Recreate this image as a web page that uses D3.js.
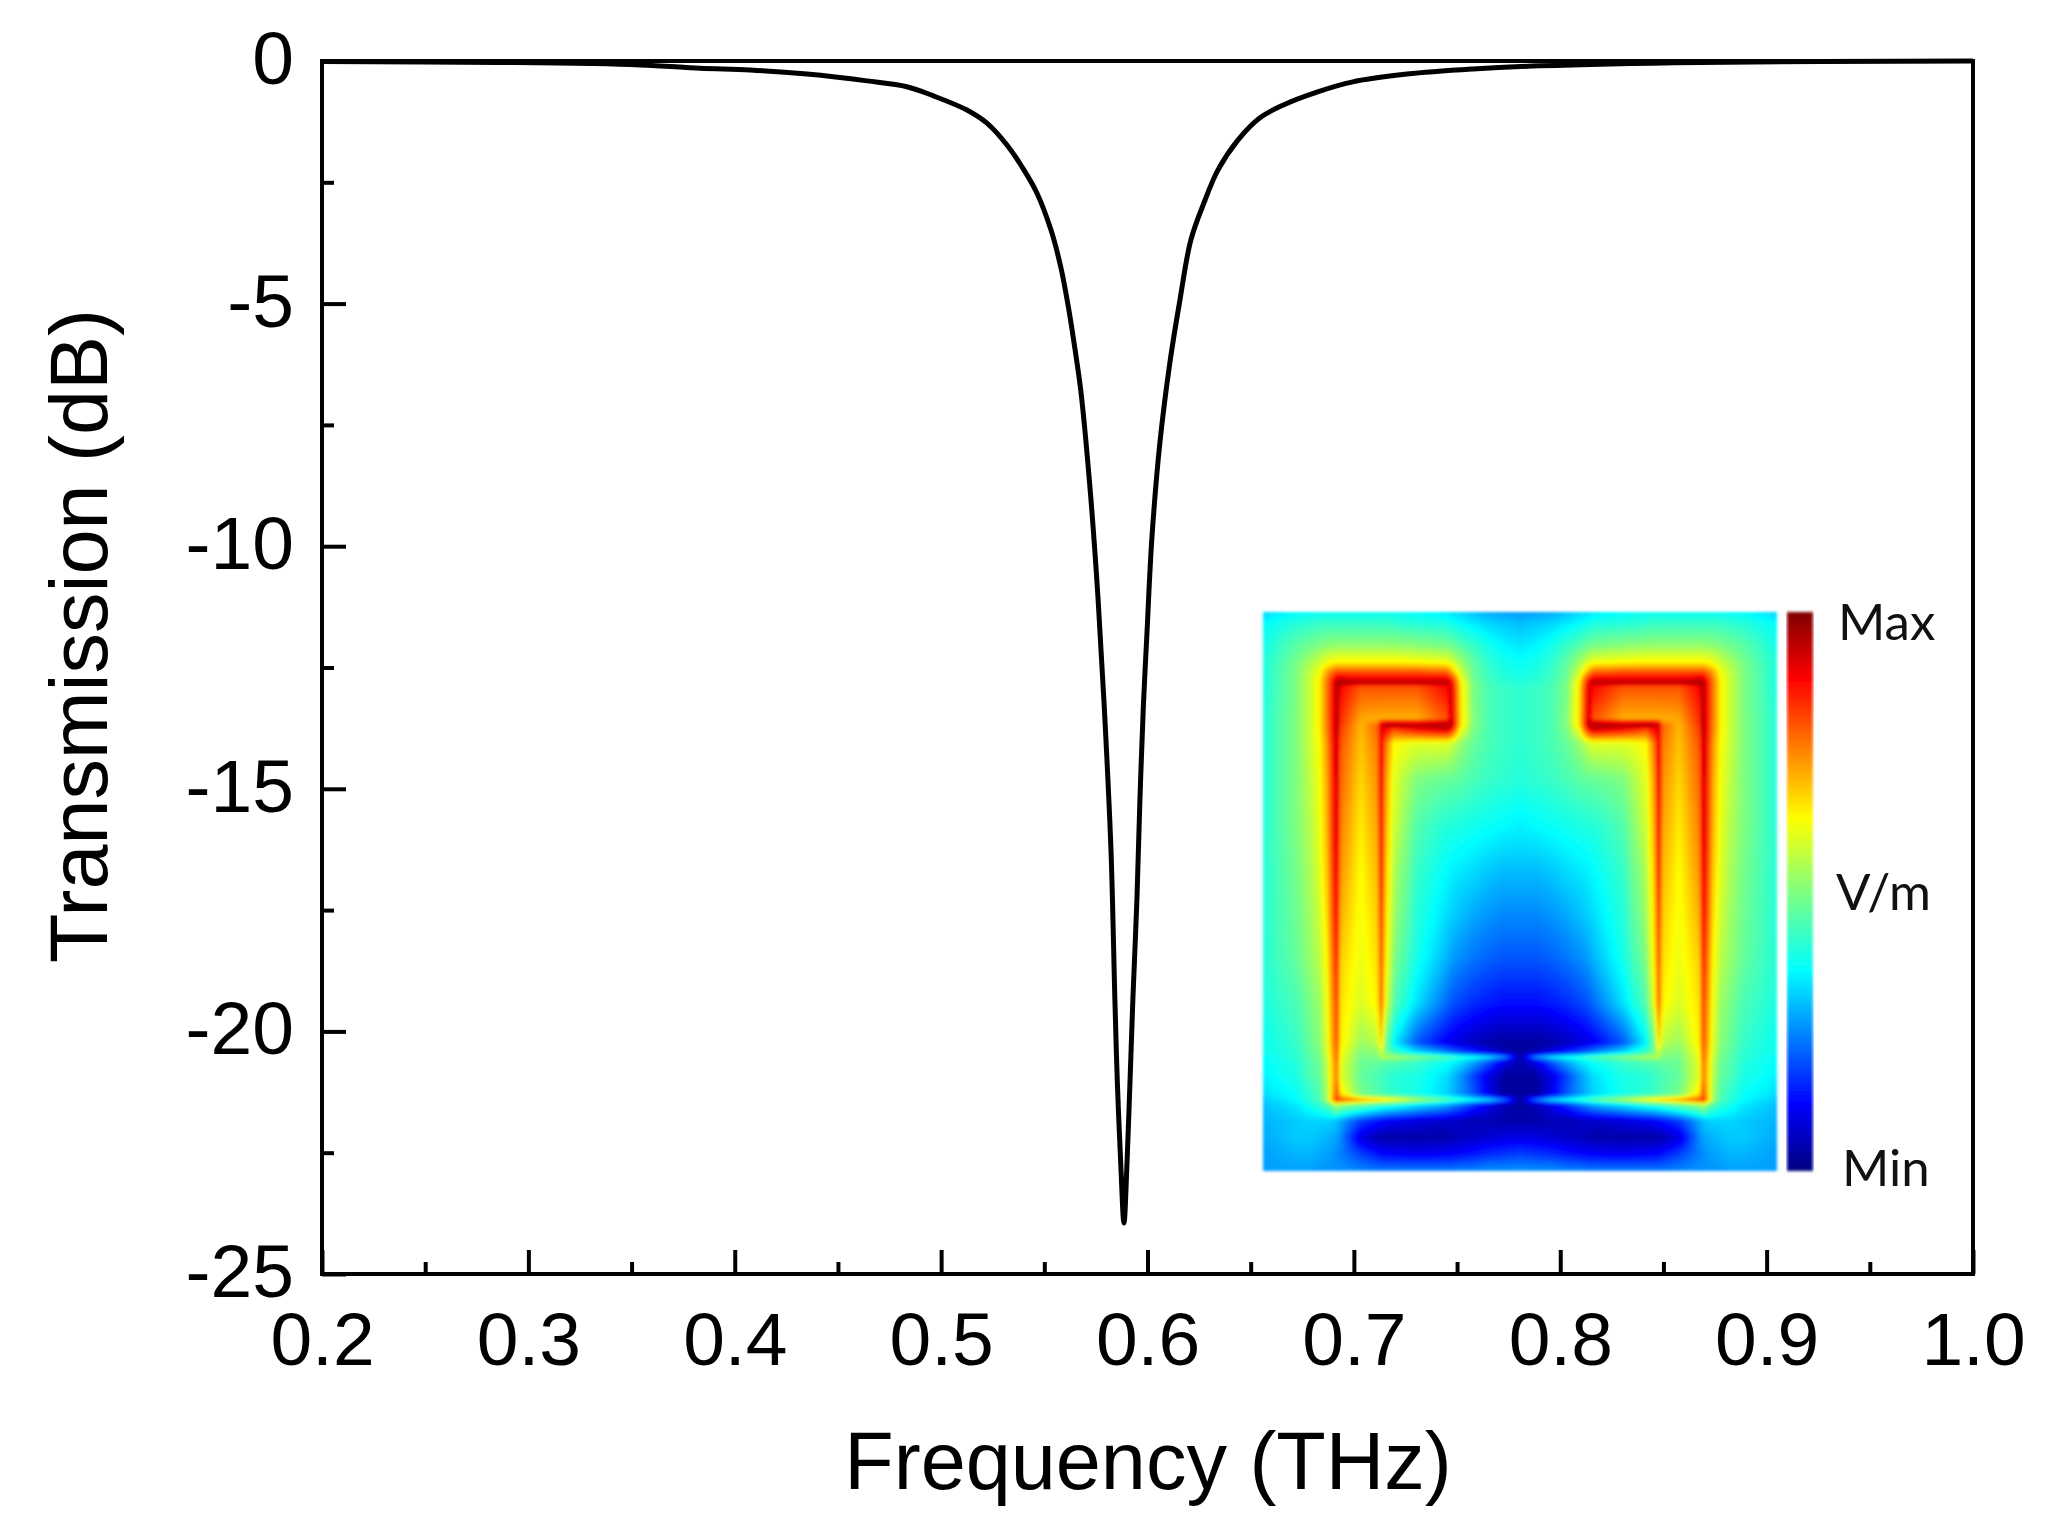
<!DOCTYPE html>
<html lang="en">
<head>
    <meta charset="UTF-8">
    <title>Transmission spectrum</title>
    <style>
        body, html {
            margin: 0;
            padding: 0;
            background-color: #fff;
        }

        svg {
            display: block;
        }

        .axis text, .axis-title {
            font-family: "Liberation Sans", Arial, sans-serif;
            fill: #000;
        }

        .axis text {
            font-size: 75px;
        }

        .axis-title {
            font-size: 81px;
        }

        .axis line {
            stroke: #000;
            stroke-width: 4px;
        }

        .axis path {
            display: none;
        }

        .inset-label {
            font-family: Lato, "Open Sans", sans-serif;
            font-size: 51px;
            fill: #111;
        }
    </style>
</head>
<body>
<div id="chart"></div>

<script src="https://d3js.org/d3.v7.min.js"></script>
<script>
    // Transmission curve
    const frequency = [0.2, 0.2862, 0.3541, 0.3831, 0.4074, 0.435, 0.4641, 0.4834, 0.496, 0.5125,
        0.5222, 0.5319, 0.5396, 0.5464, 0.5532, 0.558, 0.5619, 0.5648, 0.5677, 0.5721,
        0.576, 0.5794, 0.5823, 0.5842, 0.5854, 0.5871, 0.5886, 0.59, 0.5915, 0.5929,
        0.5949, 0.5963, 0.598, 0.5997, 0.6021, 0.606, 0.6109, 0.6157, 0.621, 0.6273,
        0.6341, 0.6438, 0.6545, 0.6656, 0.6821, 0.6995, 0.7257, 0.7577, 0.7901, 0.8676, 1.0];
    const transmission = [-0.01, -0.03, -0.08, -0.15, -0.185, -0.27, -0.41, -0.53, -0.715, -1.01,
        -1.28, -1.73, -2.21, -2.72, -3.48, -4.25, -5.13, -5.92, -6.8, -8.78,
        -11.05, -13.6, -16.26, -19.35, -21.06, -22.79, -23.95, -22.79, -21.06, -19.35,
        -17.25, -15.27, -13.29, -11.83, -9.85, -7.87, -6.2, -4.93, -3.69, -2.93,
        -2.25, -1.63, -1.17, -0.91, -0.64, -0.43, -0.27, -0.165, -0.1, -0.03, 0];

    const xTicks = [0.2, 0.3, 0.4, 0.5, 0.6, 0.7, 0.8, 0.9, 1.0];
    const xMinorTicks = [0.25, 0.35, 0.45, 0.55, 0.65, 0.75, 0.85, 0.95];
    const yTicks = [0, -5, -10, -15, -20, -25];
    const yMinorTicks = [-2.5, -7.5, -12.5, -17.5, -22.5];

    // Jet colour map of the inset
    const jetStops = [0, 0.12, 0.36, 0.5, 0.63, 0.88, 1];
    const jetColors = ["#00007f", "#0000ff", "#00ffff", "#7fff7f", "#ffff00", "#ff0000", "#7f0000"];

    // Inset field: left half only, the right half is mirrored. Knots are fractions of the inset,
    // packed tighter around the resonator edges. Values are fractions of the colour bar.
    const fieldU = [0, .065, .09, .11, .125, .137, .144, .151, .19, .222, .23, .238, .255, .30, .357, .366, .385, .41, .44, .47, .5];
    const fieldV = [0, .02, .06, .09, .107, .12, .127, .134, .19, .196, .203, .21, .235, .30, .38, .46, .54, .62, .70,
        .77, .787, .796, .805, .83, .862, .873, .882, .91, .94, .97, 1];
    const fieldRows = [
        [.32, .36, .36, .37, .37, .37, .37, .37, .37, .37, .37, .37, .37, .36, .34, .33, .32, .30, .28, .27, .26],
        [.36, .40, .41, .42, .42, .42, .42, .42, .42, .42, .42, .42, .41, .40, .39, .38, .36, .34, .32, .31, .30],
        [.38, .46, .48, .50, .51, .52, .52, .52, .52, .52, .52, .52, .52, .51, .49, .48, .45, .42, .38, .35, .34],
        [.39, .49, .54, .58, .62, .63, .64, .64, .64, .64, .64, .64, .64, .63, .62, .60, .53, .46, .41, .38, .37],
        [.39, .50, .56, .62, .72, .78, .80, .80, .80, .80, .80, .80, .80, .80, .78, .72, .58, .47, .42, .39, .38],
        [.39, .50, .57, .64, .76, .86, .93, .92, .90, .90, .90, .90, .90, .90, .90, .86, .62, .48, .43, .40, .39],
        [.39, .50, .57, .64, .77, .88, .97, .96, .95, .95, .95, .95, .95, .95, .95, .90, .64, .49, .43, .41, .40],
        [.39, .50, .57, .64, .77, .88, .96, .88, .80, .80, .80, .80, .80, .80, .88, .92, .65, .49, .44, .42, .41],
        [.40, .50, .57, .64, .77, .88, .96, .84, .72, .71, .71, .71, .71, .71, .80, .93, .66, .50, .44, .42, .41],
        [.40, .50, .57, .64, .76, .88, .96, .84, .71, .73, .82, .86, .86, .86, .90, .94, .66, .50, .44, .42, .41],
        [.40, .50, .57, .64, .76, .88, .95, .83, .70, .78, .92, .96, .96, .95, .95, .94, .65, .50, .44, .42, .41],
        [.40, .50, .57, .64, .76, .88, .95, .82, .70, .78, .90, .88, .82, .88, .92, .88, .62, .49, .44, .42, .41],
        [.40, .50, .57, .63, .74, .87, .94, .80, .69, .76, .90, .78, .63, .60, .60, .58, .52, .47, .44, .42, .41],
        [.40, .50, .56, .62, .72, .86, .93, .78, .67, .74, .90, .74, .60, .50, .47, .47, .46, .44, .42, .41, .40],
        [.40, .50, .55, .61, .71, .85, .92, .76, .65, .72, .88, .72, .58, .45, .40, .40, .39, .38, .37, .36, .35],
        [.40, .49, .54, .60, .69, .84, .90, .74, .63, .70, .86, .70, .55, .42, .36, .35, .34, .33, .31, .30, .30],
        [.40, .48, .53, .58, .67, .82, .88, .71, .62, .68, .83, .68, .53, .40, .33, .32, .30, .28, .26, .25, .25],
        [.40, .47, .52, .56, .64, .79, .85, .68, .61, .66, .80, .66, .50, .38, .29, .27, .25, .23, .21, .20, .20],
        [.39, .44, .49, .53, .62, .76, .82, .66, .59, .64, .78, .62, .45, .33, .22, .20, .18, .16, .14, .13, .13],
        [.37, .42, .47, .51, .60, .74, .80, .65, .53, .56, .68, .50, .35, .20, .11, .10, .08, .06, .04, .03, .03],
        [.37, .41, .46, .50, .59, .73, .79, .63, .50, .52, .58, .50, .42, .33, .24, .22, .19, .15, .10, .05, .03],
        [.36, .41, .45, .49, .58, .72, .78, .62, .49, .50, .54, .55, .54, .50, .44, .43, .40, .37, .33, .25, .04],
        [.36, .40, .45, .48, .57, .71, .77, .61, .48, .47, .46, .46, .45, .42, .37, .36, .33, .28, .20, .10, .04],
        [.35, .39, .44, .47, .56, .70, .76, .60, .47, .44, .43, .42, .40, .39, .33, .31, .26, .18, .09, .03, .03],
        [.33, .37, .41, .45, .55, .72, .80, .66, .49, .45, .44, .43, .41, .38, .32, .30, .26, .20, .10, .03, .03],
        [.31, .36, .40, .44, .55, .74, .84, .80, .72, .68, .66, .65, .63, .54, .45, .43, .40, .36, .32, .22, .03],
        [.30, .34, .38, .41, .45, .52, .56, .52, .48, .43, .42, .41, .39, .34, .28, .26, .22, .16, .10, .05, .03],
        [.29, .31, .32, .32, .32, .31, .30, .28, .18, .14, .13, .12, .11, .09, .07, .07, .06, .05, .05, .04, .04],
        [.28, .31, .31, .30, .29, .28, .27, .25, .09, .05, .04, .04, .04, .04, .04, .05, .06, .07, .08, .09, .10],
        [.27, .29, .29, .28, .27, .26, .25, .24, .18, .14, .13, .12, .12, .11, .12, .12, .13, .14, .16, .17, .18],
        [.27, .27, .27, .26, .26, .26, .26, .26, .25, .24, .24, .24, .24, .24, .24, .24, .25, .25, .26, .26, .26]
    ];

    const width = 2064;
    const height = 1539;
    const plot = { left: 322, right: 1973, top: 61, bottom: 1274 };
    const inset = { left: 1263, right: 1777, top: 612, bottom: 1171 };
    const colorBar = { left: 1787, right: 1813 };

    const x = d3.scaleLinear().domain([0.2, 1.0]).range([plot.left, plot.right]);
    const y = d3.scaleLinear().domain([0, -25]).range([plot.top, plot.bottom]);
    const jet = d3.scaleLinear().domain(jetStops).range(jetColors).clamp(true);

    const svg = d3.select("#chart")
        .append("svg")
        .attr("width", width)
        .attr("height", height);

    const defs = svg.append("defs");
    defs.append("filter")
        .attr("id", "soften")
        .attr("x", "-2%").attr("y", "-2%").attr("width", "104%").attr("height", "104%")
        .append("feGaussianBlur")
        .attr("stdDeviation", 1.5);

    const barGradient = defs.append("linearGradient")
        .attr("id", "jet-bar")
        .attr("x1", 0).attr("y1", 1).attr("x2", 0).attr("y2", 0);
    barGradient.selectAll("stop")
        .data(jetStops)
        .enter().append("stop")
        .attr("offset", d => d)
        .attr("stop-color", d => jet(d));

    // Inset field goes to a canvas first, then into the svg as an image
    function fieldImage() {
        const w = inset.right - inset.left;
        const h = inset.bottom - inset.top;
        const canvas = document.createElement("canvas");
        canvas.width = w;
        canvas.height = h;
        const ctx = canvas.getContext("2d");
        const img = ctx.createImageData(w, h);
        const colIndex = d3.scaleLinear().domain(fieldU).range(d3.range(fieldU.length));
        const rowIndex = d3.scaleLinear().domain(fieldV).range(d3.range(fieldV.length));

        for (let j = 0; j < h; j++) {
            const r = rowIndex((j + 0.5) / h);
            const r0 = Math.min(Math.floor(r), fieldV.length - 2);
            const rt = r - r0;
            for (let i = 0; i < w; i++) {
                const u = (i + 0.5) / w;
                const c = colIndex(u > 0.5 ? 1 - u : u);
                const c0 = Math.min(Math.floor(c), fieldU.length - 2);
                const ct = c - c0;
                const top = fieldRows[r0][c0] * (1 - ct) + fieldRows[r0][c0 + 1] * ct;
                const bottom = fieldRows[r0 + 1][c0] * (1 - ct) + fieldRows[r0 + 1][c0 + 1] * ct;
                const color = d3.rgb(jet(top * (1 - rt) + bottom * rt));
                const k = (j * w + i) * 4;
                img.data[k] = color.r;
                img.data[k + 1] = color.g;
                img.data[k + 2] = color.b;
                img.data[k + 3] = 255;
            }
        }
        ctx.putImageData(img, 0, 0);
        return canvas.toDataURL();
    }

    svg.append("image")
        .attr("href", fieldImage())
        .attr("x", inset.left)
        .attr("y", inset.top)
        .attr("width", inset.right - inset.left)
        .attr("height", inset.bottom - inset.top)
        .attr("filter", "url(#soften)");

    svg.append("rect")
        .attr("x", colorBar.left)
        .attr("y", inset.top)
        .attr("width", colorBar.right - colorBar.left)
        .attr("height", inset.bottom - inset.top)
        .attr("fill", "url(#jet-bar)")
        .attr("filter", "url(#soften)");

    svg.selectAll(".inset-label")
        .data([["Max", 1838, 640], ["V/m", 1836, 910], ["Min", 1842, 1186]])
        .enter().append("text")
        .attr("class", "inset-label")
        .attr("x", d => d[1])
        .attr("y", d => d[2])
        .text(d => d[0]);

    // Frame
    svg.append("rect")
        .attr("x", plot.left)
        .attr("y", plot.top)
        .attr("width", plot.right - plot.left)
        .attr("height", plot.bottom - plot.top)
        .attr("fill", "none")
        .attr("stroke", "#000")
        .attr("stroke-width", 4);

    // Axes, ticks point into the plot
    svg.append("g")
        .attr("class", "axis")
        .attr("transform", `translate(0,${plot.bottom})`)
        .call(d3.axisBottom(x).tickValues(xTicks).tickSize(-24).tickPadding(38).tickFormat(d3.format(".1f")));

    svg.append("g")
        .attr("class", "axis")
        .attr("transform", `translate(0,${plot.bottom})`)
        .call(d3.axisBottom(x).tickValues(xMinorTicks).tickSize(-12).tickFormat(""));

    const yAxis = svg.append("g")
        .attr("class", "axis")
        .attr("transform", `translate(${plot.left},0)`)
        .call(d3.axisLeft(y).tickValues(yTicks).tickSize(-24).tickPadding(28).tickFormat(d => String(d)));
    yAxis.selectAll("text").attr("dy", "0.3em");

    svg.append("g")
        .attr("class", "axis")
        .attr("transform", `translate(${plot.left},0)`)
        .call(d3.axisLeft(y).tickValues(yMinorTicks).tickSize(-12).tickFormat(""));

    const line = d3.line()
        .x(d => x(d[0]))
        .y(d => y(d[1]))
        .curve(d3.curveCatmullRom.alpha(0.5));

    svg.append("path")
        .datum(d3.zip(frequency, transmission))
        .attr("d", line)
        .attr("fill", "none")
        .attr("stroke", "#000")
        .attr("stroke-width", 5)
        .attr("stroke-linejoin", "round");

    svg.append("text")
        .attr("class", "axis-title")
        .attr("x", 1148)
        .attr("y", 1489)
        .attr("text-anchor", "middle")
        .text("Frequency (THz)");

    svg.append("text")
        .attr("class", "axis-title")
        .attr("transform", "translate(107,636) rotate(-90)")
        .attr("text-anchor", "middle")
        .text("Transmission (dB)");
</script>
</body>
</html>
